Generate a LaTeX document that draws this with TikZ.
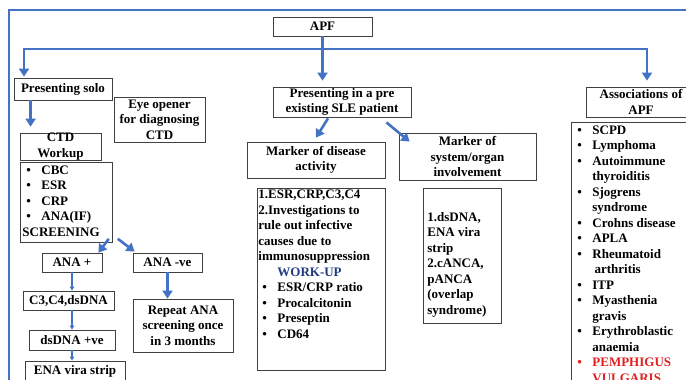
\documentclass[tikz,border=0pt]{standalone}
\usepackage{fontspec}
\setmainfont{Liberation Serif}
\usetikzlibrary{arrows.meta}
\definecolor{arrowblue}{HTML}{4472C4}
\definecolor{boxgray}{HTML}{404040}
\definecolor{workblue}{HTML}{1F3A80}
\definecolor{pemred}{HTML}{E02020}
\newcommand{\bitem}[1]{\hspace*{4pt}\makebox[15pt][l]{\textbullet}#1}
\newcommand{\bcont}[1]{\hspace*{19pt}#1}
\tikzset{
  box/.style={draw=boxgray, line width=0.8pt, align=center, inner sep=1pt,
    font=\fontsize{13}{15.5}\selectfont\bfseries},
  listbox/.style={box, anchor=north west, align=left, inner sep=0pt},
  bigarrow/.style={arrowblue, line width=2.6pt, -{Triangle[length=8pt,width=10pt]}},
  smallarrow/.style={arrowblue, line width=1.1pt, -{Triangle[length=4pt,width=4.5pt]}},
  frameline/.style={arrowblue, line width=1.2pt}
}
\begin{document}
\begin{tikzpicture}[x=1pt,y=-1pt]
\useasboundingbox (0,0) rectangle (686,380);
\clip (0,0) rectangle (686,380);
\draw[frameline] (9,400) -- (9,10) -- (700,10);

\node[box, minimum width=99pt, minimum height=19pt] (apf) at (322.5,26.5) {APF};
\node[box, minimum width=98pt, minimum height=22pt] (solo) at (63,89) {Presenting solo};
\node[box, minimum width=91pt, minimum height=45pt] (eye) at (159.5,119.5) {Eye opener\\for diagnosing\\CTD};
\node[box, minimum width=81pt, minimum height=25pt, inner ysep=0pt] (ctd) at (60.5,146.5) {CTD\\Workup};
\node[listbox, inner xsep=2pt, inner ysep=3pt] (ctdlist) at (20,162)
  {\parbox[c][74pt][t]{88pt}{\bitem{CBC}\\ \bitem{ESR}\\ \bitem{CRP}\\ \bitem{ANA(IF)}\\ SCREENING}};
\node[box, minimum width=60pt, minimum height=19pt] (anapos) at (72,262.5) {ANA +};
\node[box, minimum width=69pt, minimum height=19pt] (ananeg) at (167.5,262.5) {ANA -ve};
\node[box, minimum width=91pt, minimum height=19pt] (c3) at (68.5,300.5) {C3,C4,dsDNA};
\node[box, minimum width=100pt, minimum height=53pt] (repeat) at (183,325.5) {Repeat ANA\\screening once\\in 3 months};
\node[box, minimum width=86pt, minimum height=20pt] (dspos) at (72,340) {dsDNA +ve};
\node[box, minimum width=100pt, minimum height=21pt] (ena) at (75,371.5) {ENA vira strip};

\node[box, minimum width=138pt, minimum height=30pt] (pre) at (342,102) {Presenting in a pre\\existing SLE patient};
\node[box, minimum width=138pt, minimum height=36pt] (act) at (316,160) {Marker of disease\\activity};
\node[box, minimum width=137pt, minimum height=47pt] (sys) at (467.5,156.5) {Marker of\\system/organ\\involvement};
\node[listbox, inner xsep=1pt, inner ysep=1.5pt] (actlist) at (257,188)
  {\parbox[c][179pt][t]{126pt}{1.ESR,CRP,C3,C4\\ 2.Investigations to\\ rule out infective\\ causes due to\\ immunosuppression\\
   \bcont{{\color{workblue}WORK-UP}}\\ \bitem{ESR/CRP ratio}\\ \bitem{Procalcitonin}\\ \bitem{Preseptin}\\ \bitem{CD64}}};
\node[listbox, inner xsep=4pt, inner ysep=0pt] (syslist) at (423,188)
  {\parbox[c][135pt][t]{70pt}{\vspace*{24pt}1.dsDNA,\\ ENA vira\\ strip\\ 2.cANCA,\\ pANCA\\ (overlap\\ syndrome)}};

\node[box, minimum width=110pt, minimum height=30pt] (assoc) at (641,102) {Associations of\\APF};
\node[listbox, inner xsep=2pt, inner ysep=3pt] (assoclist) at (571,122)
  {\parbox[c][270pt][t]{120pt}{\bitem{SCPD}\\ \bitem{Lymphoma}\\ \bitem{Autoimmune}\\ \bcont{thyroiditis}\\
   \bitem{Sjogrens}\\ \bcont{syndrome}\\ \bitem{Crohns disease}\\ \bitem{APLA}\\ \bitem{Rheumatoid}\\
   \bcont{\,arthritis}\\ \bitem{ITP}\\ \bitem{Myasthenia}\\ \bcont{gravis}\\ \bitem{Erythroblastic}\\
   \bcont{anaemia}\\ {\color{pemred}\bitem{PEMPHIGUS}\\ \bcont{VULGARIS}}}};

\coordinate (jm) at (322.5,49);
\coordinate (jl) at (24,49);
\coordinate (jr) at (647,49);
\coordinate (s1) at ([xshift=17pt]solo.south west);
\draw[bigarrow, shorten >=6pt] (apf.south) -- (apf.south |- pre.north);
\draw[bigarrow, shorten >=1pt] (jm) -| (jl |- solo.north);
\draw[bigarrow, shorten >=6pt] (jm) -| (jr |- assoc.north);
\draw[bigarrow, shorten >=6pt] (s1) -- (s1 |- ctd.north);
\draw[bigarrow] ([xshift=-4pt,yshift=4pt]ctdlist.south east) -- ([xshift=-4pt]anapos.north east);
\draw[bigarrow] ([xshift=5pt,yshift=4pt]ctdlist.south east) -- ([xshift=2pt,yshift=1pt]ananeg.north west);
\draw[bigarrow] (ananeg.south) -- (ananeg.south |- repeat.north);
\draw[smallarrow] (anapos.south) -- (anapos.south |- c3.north);
\draw[smallarrow] (c3.south -| dspos.north) -- (dspos.north);
\draw[smallarrow] (dspos.south) -- (dspos.south |- ena.north);
\draw[bigarrow] ([xshift=-14pt,yshift=-1pt]pre.south) -- ([yshift=4pt]act.north);
\draw[bigarrow] ([xshift=-25pt,yshift=-5pt]pre.south east) -- ([xshift=11pt,yshift=-9pt]sys.north west);
\end{tikzpicture}
\end{document}
